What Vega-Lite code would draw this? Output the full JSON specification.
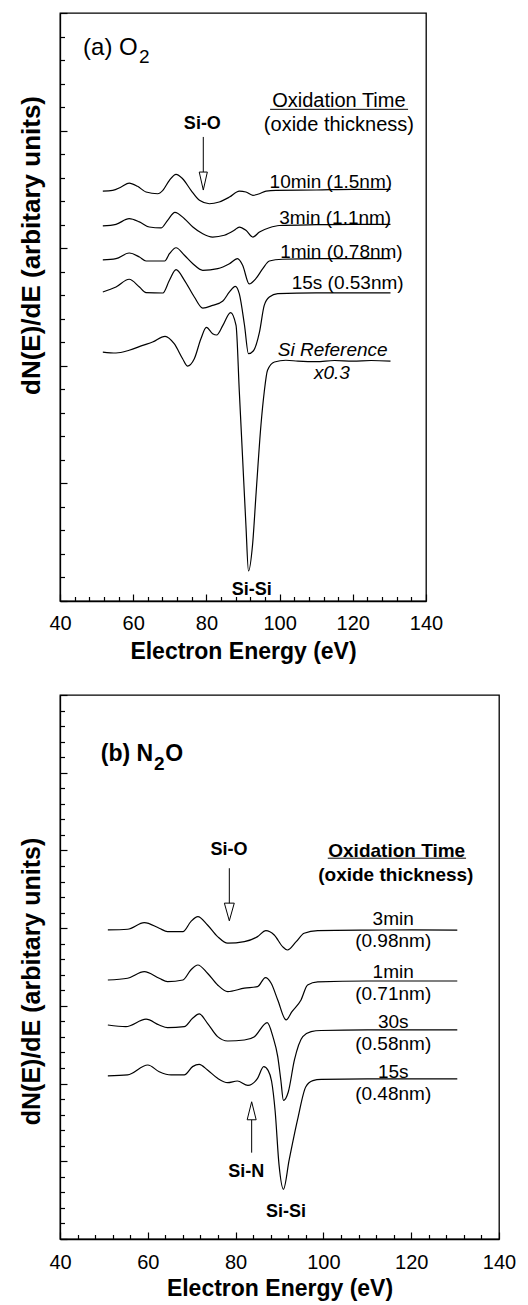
{
  "$schema": "https://vega.github.io/schema/vega-lite/v6.json",
  "background": "white",
  "padding": {"left": 17, "top": 11, "right": 5, "bottom": 2},
  "spacing": 29,
  "config": {
    "font": "Liberation Sans",
    "view": {"stroke": "black", "strokeWidth": 1.3},
    "axis": {"grid": false, "domainColor": "black", "domainWidth": 1.3, "tickColor": "black", "tickWidth": 1.2, "labelColor": "black", "titleColor": "black", "labelFont": "Liberation Sans", "titleFont": "Liberation Sans", "labelOverlap": false, "labelFlush": false},
    "text": {"font": "Liberation Sans", "color": "black"}
  },
  "datasets": {
    "topCurves": [
      {"s":"10min","E":51.7,"v":3.486},{"s":"10min","E":54.4,"v":3.492},{"s":"10min","E":56.7,"v":3.52},{"s":"10min","E":58.9,"v":3.554},{"s":"10min","E":61.2,"v":3.526},{"s":"10min","E":63.5,"v":3.478},{"s":"10min","E":66.7,"v":3.463},{"s":"10min","E":68.1,"v":3.492},{"s":"10min","E":69.9,"v":3.577},{"s":"10min","E":71.7,"v":3.628},{"s":"10min","E":73.5,"v":3.591},{"s":"10min","E":75.8,"v":3.492},{"s":"10min","E":78.1,"v":3.407},{"s":"10min","E":80.8,"v":3.378},{"s":"10min","E":83.5,"v":3.393},{"s":"10min","E":86.3,"v":3.435},{"s":"10min","E":89.0,"v":3.486},{"s":"10min","E":90.8,"v":3.478},{"s":"10min","E":92.7,"v":3.45},{"s":"10min","E":94.5,"v":3.463},{"s":"10min","E":96.3,"v":3.486},{"s":"10min","E":99.0,"v":3.492},{"s":"10min","E":110,"v":3.495},{"s":"10min","E":120,"v":3.5},{"s":"10min","E":130.3,"v":3.5},
      {"s":"3min","E":51.7,"v":3.189},{"s":"3min","E":55.3,"v":3.203},{"s":"3min","E":58.9,"v":3.251},{"s":"3min","E":61.7,"v":3.224},{"s":"3min","E":64.4,"v":3.18},{"s":"3min","E":67.6,"v":3.172},{"s":"3min","E":69.4,"v":3.237},{"s":"3min","E":71.4,"v":3.305},{"s":"3min","E":74.0,"v":3.251},{"s":"3min","E":76.3,"v":3.18},{"s":"3min","E":79.0,"v":3.123},{"s":"3min","E":81.7,"v":3.095},{"s":"3min","E":84.9,"v":3.11},{"s":"3min","E":87.6,"v":3.152},{"s":"3min","E":89.0,"v":3.18},{"s":"3min","E":90.8,"v":3.152},{"s":"3min","E":92.7,"v":3.095},{"s":"3min","E":94.5,"v":3.138},{"s":"3min","E":97.2,"v":3.174},{"s":"3min","E":99.9,"v":3.193},{"s":"3min","E":110,"v":3.2},{"s":"3min","E":120,"v":3.203},{"s":"3min","E":130.3,"v":3.203},
      {"s":"1min","E":51.7,"v":2.9},{"s":"1min","E":55.3,"v":2.911},{"s":"1min","E":58.9,"v":2.959},{"s":"1min","E":61.7,"v":2.925},{"s":"1min","E":63.5,"v":2.891},{"s":"1min","E":68.6,"v":2.891},{"s":"1min","E":69.9,"v":2.953},{"s":"1min","E":71.7,"v":3.004},{"s":"1min","E":74.0,"v":2.94},{"s":"1min","E":76.3,"v":2.868},{"s":"1min","E":79.0,"v":2.812},{"s":"1min","E":83.1,"v":2.826},{"s":"1min","E":86.3,"v":2.868},{"s":"1min","E":88.5,"v":2.911},{"s":"1min","E":89.9,"v":2.855},{"s":"1min","E":91.7,"v":2.696},{"s":"1min","E":93.5,"v":2.741},{"s":"1min","E":95.4,"v":2.826},{"s":"1min","E":97.2,"v":2.891},{"s":"1min","E":100.8,"v":2.906},{"s":"1min","E":110,"v":2.912},{"s":"1min","E":120,"v":2.912},{"s":"1min","E":130.3,"v":2.912},
      {"s":"15s","E":51.7,"v":2.628},{"s":"15s","E":55.3,"v":2.67},{"s":"15s","E":58.9,"v":2.736},{"s":"15s","E":61.7,"v":2.67},{"s":"15s","E":63.5,"v":2.622},{"s":"15s","E":68.1,"v":2.619},{"s":"15s","E":69.9,"v":2.727},{"s":"15s","E":71.7,"v":2.817},{"s":"15s","E":74.0,"v":2.727},{"s":"15s","E":76.7,"v":2.585},{"s":"15s","E":79.0,"v":2.491},{"s":"15s","E":81.7,"v":2.514},{"s":"15s","E":84.5,"v":2.551},{"s":"15s","E":86.3,"v":2.628},{"s":"15s","E":87.9,"v":2.676},{"s":"15s","E":89.0,"v":2.611},{"s":"15s","E":90.4,"v":2.347},{"s":"15s","E":91.5,"v":2.103},{"s":"15s","E":92.8,"v":2.126},{"s":"15s","E":94.5,"v":2.287},{"s":"15s","E":95.8,"v":2.514},{"s":"15s","E":97.2,"v":2.585},{"s":"15s","E":99.5,"v":2.613},{"s":"15s","E":110,"v":2.62},{"s":"15s","E":120,"v":2.62},{"s":"15s","E":130.3,"v":2.62},
      {"s":"ref","E":51.7,"v":2.117},{"s":"ref","E":55.3,"v":2.109},{"s":"ref","E":58.9,"v":2.132},{"s":"ref","E":62.6,"v":2.174},{"s":"ref","E":65.3,"v":2.202},{"s":"ref","E":68.7,"v":2.251},{"s":"ref","E":71.2,"v":2.188},{"s":"ref","E":73.5,"v":2.06},{"s":"ref","E":74.8,"v":1.998},{"s":"ref","E":76.7,"v":2.06},{"s":"ref","E":78.5,"v":2.23},{"s":"ref","E":80.0,"v":2.326},{"s":"ref","E":81.7,"v":2.273},{"s":"ref","E":82.8,"v":2.262},{"s":"ref","E":84.5,"v":2.344},{"s":"ref","E":86.6,"v":2.453},{"s":"ref","E":88.1,"v":2.344},{"s":"ref","E":89.0,"v":1.777},{"s":"ref","E":89.9,"v":1.21},{"s":"ref","E":90.8,"v":0.644},{"s":"ref","E":91.5,"v":0.255},{"s":"ref","E":92.6,"v":0.474},{"s":"ref","E":93.6,"v":0.927},{"s":"ref","E":94.9,"v":1.494},{"s":"ref","E":95.8,"v":1.777},{"s":"ref","E":96.7,"v":1.962},{"s":"ref","E":98.6,"v":2.032},{"s":"ref","E":101.7,"v":2.047},{"s":"ref","E":105,"v":2.04},{"s":"ref","E":110,"v":2.035},{"s":"ref","E":115,"v":2.045},{"s":"ref","E":120,"v":2.04},{"s":"ref","E":125,"v":2.045},{"s":"ref","E":130.3,"v":2.04}
    ],
    "botCurves": [
      {"s":"3min","E":50.9,"v":3.977},{"s":"3min","E":55.4,"v":3.986},{"s":"3min","E":59.2,"v":4.071},{"s":"3min","E":62.6,"v":3.999},{"s":"3min","E":64.5,"v":3.955},{"s":"3min","E":68.0,"v":3.955},{"s":"3min","E":69.8,"v":4.084},{"s":"3min","E":71.4,"v":4.148},{"s":"3min","E":73.6,"v":4.041},{"s":"3min","E":75.9,"v":3.891},{"s":"3min","E":78.2,"v":3.806},{"s":"3min","E":82.0,"v":3.826},{"s":"3min","E":85.0,"v":3.891},{"s":"3min","E":86.9,"v":3.968},{"s":"3min","E":88.8,"v":3.912},{"s":"3min","E":90.7,"v":3.762},{"s":"3min","E":91.8,"v":3.719},{"s":"3min","E":93.8,"v":3.826},{"s":"3min","E":95.6,"v":3.934},{"s":"3min","E":98.7,"v":3.968},{"s":"3min","E":110,"v":3.975},{"s":"3min","E":120,"v":3.977},{"s":"3min","E":130.5,"v":3.975},
      {"s":"1min","E":50.9,"v":3.333},{"s":"1min","E":55.4,"v":3.355},{"s":"1min","E":59.2,"v":3.44},{"s":"1min","E":62.6,"v":3.355},{"s":"1min","E":64.5,"v":3.311},{"s":"1min","E":68.0,"v":3.333},{"s":"1min","E":69.8,"v":3.462},{"s":"1min","E":71.4,"v":3.526},{"s":"1min","E":73.6,"v":3.42},{"s":"1min","E":75.9,"v":3.269},{"s":"1min","E":78.2,"v":3.183},{"s":"1min","E":82.0,"v":3.227},{"s":"1min","E":85.0,"v":3.247},{"s":"1min","E":86.8,"v":3.363},{"s":"1min","E":88.1,"v":3.291},{"s":"1min","E":89.6,"v":3.076},{"s":"1min","E":91.5,"v":2.819},{"s":"1min","E":92.8,"v":2.922},{"s":"1min","E":94.9,"v":3.076},{"s":"1min","E":96.4,"v":3.269},{"s":"1min","E":98.7,"v":3.308},{"s":"1min","E":110,"v":3.32},{"s":"1min","E":120,"v":3.32},{"s":"1min","E":130.5,"v":3.32},
      {"s":"30s","E":50.9,"v":2.754},{"s":"30s","E":55.0,"v":2.732},{"s":"30s","E":59.6,"v":2.828},{"s":"30s","E":62.6,"v":2.754},{"s":"30s","E":64.5,"v":2.719},{"s":"30s","E":68.3,"v":2.732},{"s":"30s","E":70.2,"v":2.84},{"s":"30s","E":71.7,"v":2.896},{"s":"30s","E":73.6,"v":2.776},{"s":"30s","E":75.9,"v":2.604},{"s":"30s","E":78.2,"v":2.548},{"s":"30s","E":82.0,"v":2.561},{"s":"30s","E":84.3,"v":2.604},{"s":"30s","E":87.2,"v":2.784},{"s":"30s","E":88.5,"v":2.604},{"s":"30s","E":89.6,"v":2.346},{"s":"30s","E":90.3,"v":2.046},{"s":"30s","E":90.9,"v":1.783},{"s":"30s","E":92.0,"v":1.892},{"s":"30s","E":93.4,"v":2.304},{"s":"30s","E":95.3,"v":2.604},{"s":"30s","E":97.2,"v":2.668},{"s":"30s","E":99.5,"v":2.683},{"s":"30s","E":110,"v":2.69},{"s":"30s","E":120,"v":2.69},{"s":"30s","E":130.5,"v":2.69},
      {"s":"15s","E":50.9,"v":2.098},{"s":"15s","E":55.4,"v":2.111},{"s":"15s","E":60.0,"v":2.239},{"s":"15s","E":62.6,"v":2.153},{"s":"15s","E":65.3,"v":2.111},{"s":"15s","E":68.3,"v":2.111},{"s":"15s","E":70.2,"v":2.218},{"s":"15s","E":71.7,"v":2.248},{"s":"15s","E":73.6,"v":2.175},{"s":"15s","E":75.9,"v":2.068},{"s":"15s","E":78.2,"v":2.012},{"s":"15s","E":80.4,"v":2.033},{"s":"15s","E":82.8,"v":1.976},{"s":"15s","E":85.0,"v":2.068},{"s":"15s","E":86.4,"v":2.218},{"s":"15s","E":87.4,"v":2.17},{"s":"15s","E":88.2,"v":2.03},{"s":"15s","E":89.0,"v":1.65},{"s":"15s","E":89.9,"v":0.95},{"s":"15s","E":90.9,"v":0.64},{"s":"15s","E":92.2,"v":1.017},{"s":"15s","E":94.1,"v":1.532},{"s":"15s","E":96.0,"v":1.96},{"s":"15s","E":97.6,"v":2.037},{"s":"15s","E":99.5,"v":2.053},{"s":"15s","E":110,"v":2.06},{"s":"15s","E":120,"v":2.06},{"s":"15s","E":130.5,"v":2.06}
    ]
  },
  "vconcat": [
    {
      "width": 366,
      "height": 588,
      "encoding": {
        "x": {"field": "E", "type": "quantitative", "scale": {"domain": [40, 140], "nice": false, "zero": false},
          "axis": {"values": [40,44,48,52,56,60,64,68,72,76,80,84,88,92,96,100,104,108,112,116,120,124,128,132,136,140],
            "labelExpr": "datum.value % 20 === 0 ? datum.label : ''",
            "tickSize": -7,
            "tickDash": {"condition": {"test": "datum.value % 20 === 0", "value": [8, 0]}, "value": [4.5, 20]},
            "labelFontSize": 20, "labelPadding": 19,
            "title": "Electron Energy (eV)", "titleFontSize": 23, "titleFontWeight": "bold", "titlePadding": 7}},
        "y": {"field": "v", "type": "quantitative", "scale": {"domain": [0, 5], "nice": false, "zero": false},
          "axis": {"values": [0,0.2,0.4,0.6,0.8,1,1.2,1.4,1.6,1.8,2,2.2,2.4,2.6,2.8,3,3.2,3.4,3.6,3.8,4,4.2,4.4,4.6,4.8,5],
            "labels": false,
            "tickSize": -7,
            "tickDash": {"condition": {"test": "abs(datum.value - round(datum.value)) < 0.01", "value": [8, 0]}, "value": [4.5, 20]},
            "title": "dN(E)/dE (arbitary units)", "titleFontSize": 26, "titleFontWeight": "bold",
            "titleAngle": -90, "titleAlign": "center", "titleBaseline": "bottom", "titleX": -16, "titleY": 232}}
      },
      "layer": [
        {"data": {"name": "topCurves"}, "mark": {"type": "line", "color": "black", "strokeWidth": 1.2, "interpolate": "monotone"}, "encoding": {"detail": {"field": "s"}}},
        {"data": {"values": [{"E": 79.15, "v": 3.946, "E2": 79.15, "v2": 3.648}, {"E": 97.4, "v": 4.181, "E2": 135.1, "v2": 4.181}]},
          "mark": {"type": "rule", "color": "black", "strokeWidth": 1}, "encoding": {"x2": {"field": "E2"}, "y2": {"field": "v2"}}},
        {"data": {"values": [{"E": 79.15, "v": 3.571}]},
          "mark": {"type": "point", "shape": "M-0.45,-1L0.45,-1L0,1Z", "size": 324, "filled": false, "stroke": "black", "strokeWidth": 1, "opacity": 1}, "encoding": {}},
        {"data": {"values": [{"E": 46.3, "v": 4.643, "t": "(a) O"}]},
          "mark": {"type": "text", "fontSize": 24, "align": "left", "baseline": "alphabetic"}, "encoding": {"text": {"field": "t"}}},
        {"data": {"values": [{"E": 61.6, "v": 4.575, "t": "2"}]},
          "mark": {"type": "text", "fontSize": 19, "align": "left", "baseline": "alphabetic"}, "encoding": {"text": {"field": "t"}}},
        {"data": {"values": [{"E": 116.2, "v": 4.2, "t": "Oxidation Time"}, {"E": 116.2, "v": 3.994, "t": "(oxide thickness)"}]},
          "mark": {"type": "text", "fontSize": 20, "align": "center", "baseline": "alphabetic"}, "encoding": {"text": {"field": "t"}}},
        {"data": {"values": [{"E": 114.0, "v": 3.512, "t": "10min (1.5nm)"}, {"E": 115.2, "v": 3.208, "t": "3min (1.1nm)"}, {"E": 116.9, "v": 2.917, "t": "1min (0.78nm)"}, {"E": 118.6, "v": 2.65, "t": "15s (0.53nm)"}]},
          "mark": {"type": "text", "fontSize": 19, "align": "center", "baseline": "alphabetic"}, "encoding": {"text": {"field": "t"}}},
        {"data": {"values": [{"E": 114.5, "v": 2.083, "t": "Si Reference"}, {"E": 114.3, "v": 1.885, "t": "x0.3"}]},
          "mark": {"type": "text", "fontSize": 19, "fontStyle": "italic", "align": "center", "baseline": "alphabetic"}, "encoding": {"text": {"field": "t"}}},
        {"data": {"values": [{"E": 78.9, "v": 4.016, "t": "Si-O"}, {"E": 92.4, "v": 0.054, "t": "Si-Si"}]},
          "mark": {"type": "text", "fontSize": 18, "fontWeight": "bold", "align": "center", "baseline": "alphabetic"}, "encoding": {"text": {"field": "t"}}}
      ]
    },
    {
      "width": 439,
      "height": 544,
      "encoding": {
        "x": {"field": "E", "type": "quantitative", "scale": {"domain": [40, 140], "nice": false, "zero": false},
          "axis": {"values": [40,44,48,52,56,60,64,68,72,76,80,84,88,92,96,100,104,108,112,116,120,124,128,132,136,140],
            "labelExpr": "datum.value % 20 === 0 ? datum.label : ''",
            "tickSize": -7,
            "tickDash": {"condition": {"test": "datum.value % 20 === 0", "value": [8, 0]}, "value": [4.5, 20]},
            "labelFontSize": 20, "labelPadding": 20,
            "title": "Electron Energy (eV)", "titleFontSize": 23, "titleFontWeight": "bold", "titlePadding": 5}},
        "y": {"field": "v", "type": "quantitative", "scale": {"domain": [0, 7], "nice": false, "zero": false},
          "axis": {"values": [0,0.2,0.4,0.6,0.8,1,1.2,1.4,1.6,1.8,2,2.2,2.4,2.6,2.8,3,3.2,3.4,3.6,3.8,4,4.2,4.4,4.6,4.8,5,5.2,5.4,5.6,5.8,6,6.2,6.4,6.6,6.8,7],
            "labels": false,
            "tickSize": -7,
            "tickDash": {"condition": {"test": "abs(datum.value - round(datum.value)) < 0.01", "value": [8, 0]}, "value": [4.5, 20]},
            "title": "dN(E)/dE (arbitary units)", "titleFontSize": 25, "titleFontWeight": "bold",
            "titleAngle": -90, "titleAlign": "center", "titleBaseline": "bottom", "titleX": -16, "titleY": 286}}
      },
      "layer": [
        {"data": {"name": "botCurves"}, "mark": {"type": "line", "color": "black", "strokeWidth": 1.2, "interpolate": "monotone"}, "encoding": {"detail": {"field": "s"}}},
        {"data": {"values": [{"E": 78.57, "v": 4.771, "E2": 78.57, "v2": 4.32}, {"E": 83.66, "v": 1.111, "E2": 83.66, "v2": 1.532}, {"E": 101.0, "v": 4.9, "E2": 132.5, "v2": 4.9}]},
          "mark": {"type": "rule", "color": "black", "strokeWidth": 1}, "encoding": {"x2": {"field": "E2"}, "y2": {"field": "v2"}}},
        {"data": {"values": [{"E": 78.57, "v": 4.208}]},
          "mark": {"type": "point", "shape": "M-0.56,-1L0.56,-1L0,1Z", "size": 313, "filled": false, "stroke": "black", "strokeWidth": 1, "opacity": 1}, "encoding": {}},
        {"data": {"values": [{"E": 83.66, "v": 1.65}]},
          "mark": {"type": "point", "shape": "M-0.5,1L0.5,1L0,-1Z", "size": 324, "filled": false, "stroke": "black", "strokeWidth": 1, "opacity": 1}, "encoding": {}},
        {"data": {"values": [{"E": 49.3, "v": 6.156, "t": "(b) N"}, {"E": 64.0, "v": 6.156, "t": "O"}]},
          "mark": {"type": "text", "fontSize": 23, "fontWeight": "bold", "align": "left", "baseline": "alphabetic"}, "encoding": {"text": {"field": "t"}}},
        {"data": {"values": [{"E": 61.4, "v": 6.036, "t": "2"}]},
          "mark": {"type": "text", "fontSize": 19, "fontWeight": "bold", "align": "left", "baseline": "alphabetic"}, "encoding": {"text": {"field": "t"}}},
        {"data": {"values": [{"E": 116.7, "v": 4.92, "t": "Oxidation Time"}, {"E": 116.5, "v": 4.611, "t": "(oxide thickness)"}]},
          "mark": {"type": "text", "fontSize": 19, "fontWeight": "bold", "align": "center", "baseline": "alphabetic"}, "encoding": {"text": {"field": "t"}}},
        {"data": {"values": [{"E": 115.9, "v": 4.041, "t": "3min"}, {"E": 115.9, "v": 3.762, "t": "(0.98nm)"}, {"E": 115.9, "v": 3.355, "t": "1min"}, {"E": 115.9, "v": 3.076, "t": "(0.71nm)"}, {"E": 115.9, "v": 2.712, "t": "30s"}, {"E": 115.9, "v": 2.432, "t": "(0.58nm)"}, {"E": 115.9, "v": 2.068, "t": "15s"}, {"E": 115.9, "v": 1.789, "t": "(0.48nm)"}]},
          "mark": {"type": "text", "fontSize": 19, "align": "center", "baseline": "alphabetic"}, "encoding": {"text": {"field": "t"}}},
        {"data": {"values": [{"E": 78.5, "v": 4.942, "t": "Si-O"}, {"E": 82.4, "v": 0.802, "t": "Si-N"}, {"E": 91.5, "v": 0.287, "t": "Si-Si"}]},
          "mark": {"type": "text", "fontSize": 18, "fontWeight": "bold", "align": "center", "baseline": "alphabetic"}, "encoding": {"text": {"field": "t"}}}
      ]
    }
  ]
}
